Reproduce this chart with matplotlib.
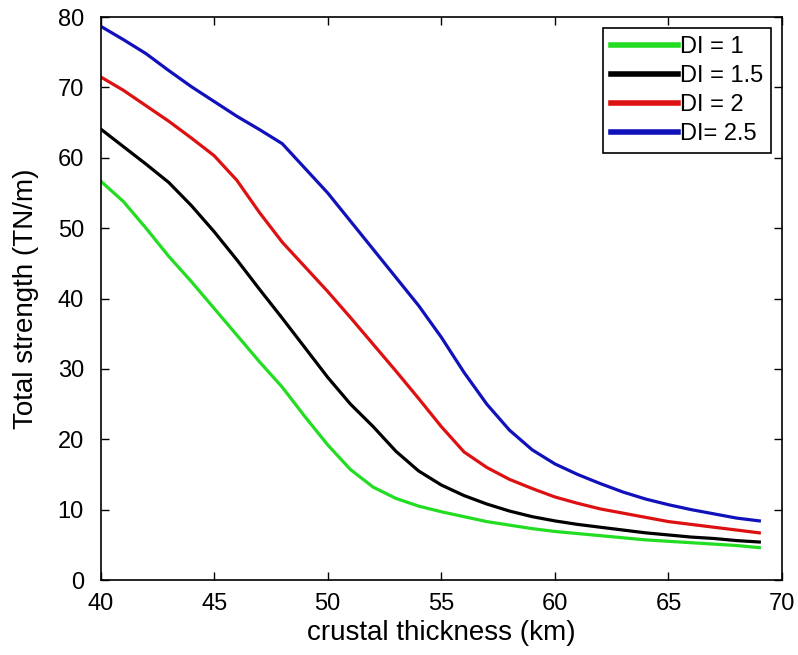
import matplotlib.pyplot as plt

# crustal thickness (km)
thickness = list(range(40, 70))

# total strength (TN/m) for each DI value
di_1 = [56.7, 53.8, 50.0, 46.0, 42.4, 38.6, 34.8, 31.0, 27.4, 23.2,
        19.2, 15.7, 13.2, 11.6, 10.5, 9.7, 9.0, 8.3, 7.8, 7.3,
        6.9, 6.6, 6.3, 6.0, 5.7, 5.5, 5.3, 5.1, 4.9, 4.6]
di_15 = [64.1, 61.6, 59.1, 56.5, 53.2, 49.5, 45.5, 41.3, 37.2, 33.0,
         28.8, 25.0, 21.8, 18.3, 15.5, 13.5, 12.0, 10.8, 9.8, 9.0,
         8.4, 7.9, 7.5, 7.1, 6.7, 6.4, 6.1, 5.9, 5.6, 5.4]
di_2 = [71.5, 69.6, 67.4, 65.2, 62.8, 60.3, 56.8, 52.2, 48.0, 44.5,
        41.0, 37.3, 33.5, 29.7, 25.8, 21.8, 18.2, 16.0, 14.3, 13.0,
        11.8, 10.9, 10.1, 9.5, 8.9, 8.3, 7.9, 7.5, 7.1, 6.7]
di_25 = [78.7, 76.8, 74.8, 72.4, 70.1, 68.0, 65.9, 64.0, 62.0, 58.5,
         55.0, 51.0, 47.0, 43.0, 39.0, 34.5, 29.5, 25.0, 21.3, 18.5,
         16.5, 15.0, 13.7, 12.5, 11.5, 10.7, 10.0, 9.4, 8.8, 8.4]

labels = ['DI = 1', 'DI = 1.5', 'DI = 2', 'DI= 2.5']
colors = ['#22dd22', '#000000', '#dd1111', '#1111bb']

plt.rcParams['font.family'] = ['Liberation Sans', 'DejaVu Sans']

fig = plt.figure(figsize=(7.98, 6.55), dpi=100)
ax = fig.add_axes([0.126, 0.1145, 0.854, 0.8595])

for ys, lab, c in zip([di_1, di_15, di_2, di_25], labels, colors):
    ax.plot(thickness, ys, color=c, lw=2.3, label=lab)

ax.set_xlim(40, 70)
ax.set_ylim(0, 80)
ax.set_xticks(range(40, 71, 5))
ax.set_yticks(range(0, 81, 10))
ax.tick_params(direction='in', top=True, right=True, labelsize=17, length=6, width=1)
ax.tick_params(axis='x', pad=9)
ax.tick_params(axis='y', pad=12)
for s in ax.spines.values():
    s.set_linewidth(1.2)

ax.set_xlabel('crustal thickness (km)', fontsize=20, labelpad=4)
ax.set_ylabel('Total strength (TN/m)', fontsize=20, labelpad=13)

leg = ax.legend(loc='upper right', fontsize=17, fancybox=False, framealpha=1,
                edgecolor='black', handlelength=2.8, handletextpad=0.1,
                borderaxespad=0.45, labelspacing=0.3, borderpad=0.35)
leg.get_frame().set_linewidth(1.2)
for line in leg.get_lines():
    line.set_linewidth(4)

fig.savefig('out.png', dpi=100)
